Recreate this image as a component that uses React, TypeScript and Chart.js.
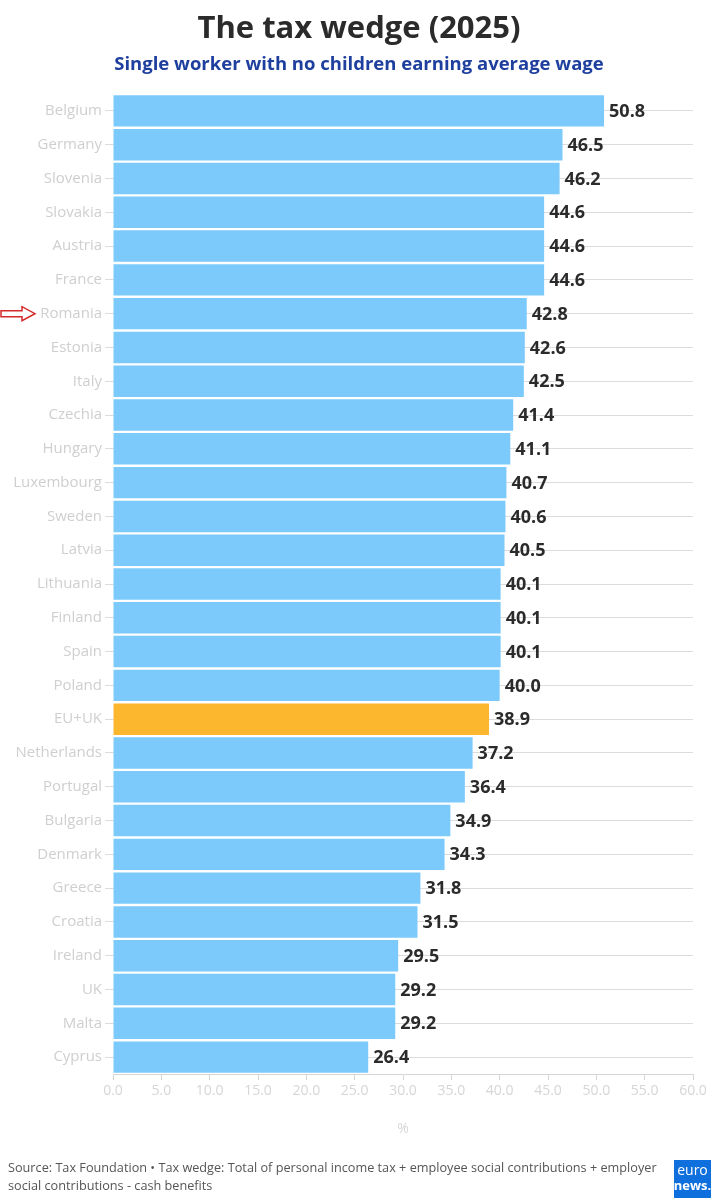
import React, { useEffect, useRef } from "react";
import { Chart, registerables } from "chart.js";

Chart.register(...registerables);

const countries = [
  "Belgium", "Germany", "Slovenia", "Slovakia", "Austria", "France", "Romania",
  "Estonia", "Italy", "Czechia", "Hungary", "Luxembourg", "Sweden", "Latvia",
  "Lithuania", "Finland", "Spain", "Poland", "EU+UK", "Netherlands", "Portugal",
  "Bulgaria", "Denmark", "Greece", "Croatia", "Ireland", "UK", "Malta", "Cyprus",
];

const taxWedge = [
  50.8, 46.5, 46.2, 44.6, 44.6, 44.6, 42.8, 42.6, 42.5, 41.4, 41.1, 40.7, 40.6,
  40.5, 40.1, 40.1, 40.1, 40.0, 38.9, 37.2, 36.4, 34.9, 34.3, 31.8, 31.5, 29.5,
  29.2, 29.2, 26.4,
];

const highlighted = "EU+UK";
const markedCountry = "Romania";
const xTicks = [0, 5, 10, 15, 20, 25, 30, 35, 40, 45, 50, 55, 60];

const titleText = "The tax wedge (2025)";
const subtitleText = "Single worker with no children earning average wage";
const footerLines = [
  "Source: Tax Foundation \u2022 Tax wedge: Total of personal income tax + employee social contributions + employer",
  "social contributions - cash benefits",
];

const BLUE = "#7ccafc";
const ORANGE = "#fcb72f";

// Title, subtitle, footer, logo and the marker arrow
const decorPlugin = {
  id: "decor",
  afterDraw(chart: any) {
    const ctx = chart.ctx as CanvasRenderingContext2D;
    const w = chart.width;
    ctx.save();
    ctx.textAlign = "center";
    ctx.textBaseline = "middle";
    ctx.fillStyle = "#2b2b2b";
    ctx.font = "bold 31px 'Open Sans'";
    ctx.fillText(titleText, w / 2, 29);
    ctx.fillStyle = "#1f3f9f";
    ctx.font = "bold 18.5px 'Open Sans'";
    ctx.fillText(subtitleText, w / 2, 65);

    ctx.textAlign = "left";
    ctx.fillStyle = "#555";
    ctx.font = "12.7px 'Open Sans'";
    footerLines.forEach((l, i) => ctx.fillText(l, 8, 1168 + i * 18));

    // euronews logo
    ctx.fillStyle = "#0f6fdc";
    ctx.fillRect(674, 1160, 37, 38);
    ctx.fillStyle = "#fff";
    ctx.textAlign = "center";
    ctx.font = "14px 'Open Sans'";
    ctx.fillText("euro", 692.5, 1171);
    ctx.font = "bold 13px 'Open Sans'";
    ctx.fillText("news.", 692.5, 1186);

    // arrow pointing at the marked country
    const yScale = chart.scales.y;
    const idx = countries.indexOf(markedCountry);
    if (idx >= 0) {
      const y = yScale.getPixelForValue(idx);
      ctx.strokeStyle = "#d42a2a";
      ctx.lineWidth = 1.5;
      ctx.beginPath();
      ctx.moveTo(1, y - 3);
      ctx.lineTo(22, y - 3);
      ctx.lineTo(22, y - 7);
      ctx.lineTo(35, y);
      ctx.lineTo(22, y + 7);
      ctx.lineTo(22, y + 3);
      ctx.lineTo(1, y + 3);
      ctx.closePath();
      ctx.stroke();
    }
    ctx.restore();
  },
};

// Value labels at the end of each bar
const valueLabelPlugin = {
  id: "valueLabels",
  afterDatasetsDraw(chart: any) {
    const ctx = chart.ctx as CanvasRenderingContext2D;
    const meta = chart.getDatasetMeta(0);
    ctx.save();
    ctx.fillStyle = "#2b2b2b";
    ctx.font = "bold 18px 'Open Sans'";
    ctx.textAlign = "left";
    ctx.textBaseline = "middle";
    meta.data.forEach((bar: any, i: number) => {
      ctx.fillText(taxWedge[i].toFixed(1), bar.x + 5, bar.y + 1);
    });
    ctx.restore();
  },
};

export default function App() {
  const canvasRef = useRef<HTMLCanvasElement | null>(null);

  useEffect(() => {
    if (!canvasRef.current) return;
    const chart = new Chart(canvasRef.current, {
      type: "bar",
      data: {
        labels: countries,
        datasets: [
          {
            data: taxWedge,
            backgroundColor: countries.map((c) => (c === highlighted ? ORANGE : BLUE)),
            barPercentage: 0.93,
            categoryPercentage: 1,
          },
        ],
      },
      options: {
        indexAxis: "y",
        responsive: false,
        animation: false,
        layout: { padding: { top: 94, bottom: 59, left: 0, right: 25 } },
        plugins: {
          legend: { display: false },
          tooltip: { enabled: false },
        },
        scales: {
          x: {
            min: 0,
            max: 60,
            afterBuildTicks: (scale: any) => {
              scale.ticks = xTicks.map((v) => ({ value: v }));
            },
            afterFit: (scale: any) => {
              scale.height = 67;
            },
            ticks: {
              color: "#d6d6d6",
              font: { family: "'Open Sans'", size: 14 },
              padding: 3,
              maxRotation: 0,
              callback: (v: any) => Number(v).toFixed(1),
            },
            grid: {
              drawOnChartArea: false,
              drawTicks: true,
              tickLength: 6,
              color: "#d6d6d6",
            },
            border: { display: true, color: "#d6d6d6" },
            title: {
              display: true,
              text: "%",
              color: "#d6d6d6",
              font: { family: "'Open Sans'", size: 14 },
            },
          },
          y: {
            afterFit: (scale: any) => {
              scale.width = 113;
            },
            ticks: {
              color: "#cfcfcf",
              font: { family: "'Open Sans'", size: 15 },
              padding: 3,
            },
            grid: {
              offset: false,
              color: "#dcdcdc",
              tickLength: 8,
            },
            border: { display: false },
          },
        },
      },
      plugins: [valueLabelPlugin, decorPlugin],
    } as any);
    return () => chart.destroy();
  }, []);

  return (
    <div style={{ position: "absolute", left: 0, top: 0, width: 718, height: 1200, background: "#fff" }}>
      <canvas ref={canvasRef} width={718} height={1200} style={{ display: "block" }} />
    </div>
  );
}
